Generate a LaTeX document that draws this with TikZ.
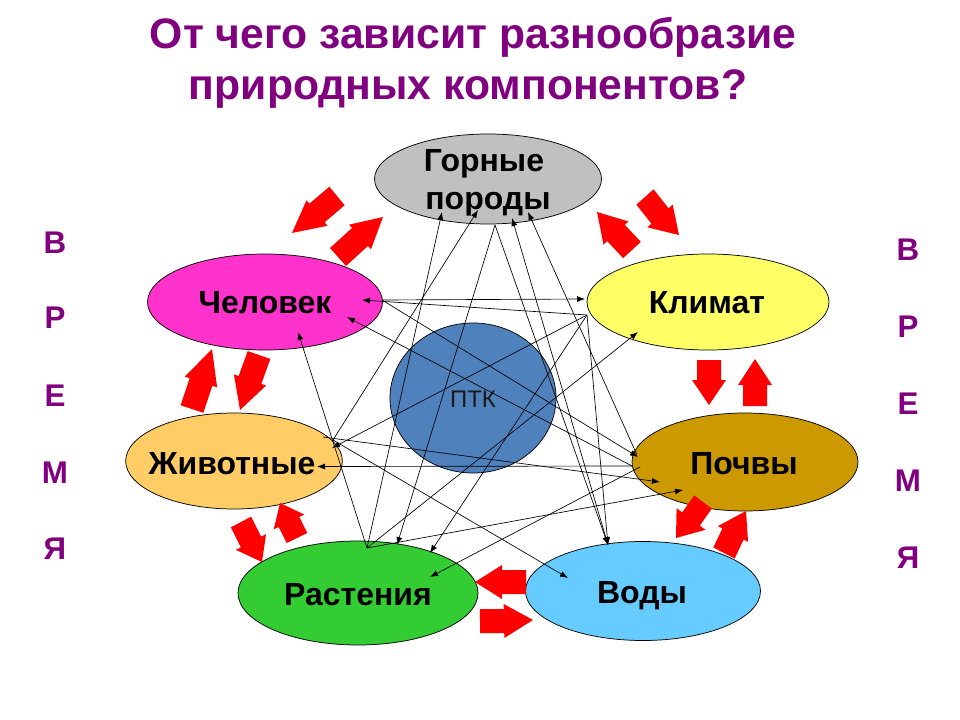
\documentclass[tikz,border=0pt]{standalone}
\usepackage{fontspec}
\setmainfont{Liberation Sans}
\usetikzlibrary{shapes.geometric,arrows.meta}
\definecolor{titlepurple}{HTML}{800080}
\definecolor{rockgray}{HTML}{C0C0C0}
\definecolor{humanpink}{HTML}{FF33CC}
\definecolor{climyellow}{HTML}{FFFF66}
\definecolor{ptkblue}{HTML}{4F81BD}
\definecolor{animorange}{HTML}{FFCC66}
\definecolor{soilgold}{HTML}{CC9900}
\definecolor{plantgreen}{HTML}{33CC33}
\definecolor{waterblue}{HTML}{66CCFF}
\definecolor{arrred}{HTML}{FF0000}
\tikzset{
  ell/.style={ellipse,draw=black,line width=0.55pt,inner sep=0pt,font=\fontsize{24}{26}\selectfont\bfseries,text=black},
  link/.style={draw=black,line width=0.5pt,-{Latex[length=6pt,width=4.5pt]}},
  heading/.style={font=\fontsize{32}{36}\selectfont\bfseries,text=titlepurple,inner sep=0pt},
  timeletter/.style={font=\fontsize{23.5}{26}\selectfont\bfseries,text=titlepurple,inner sep=0pt},
  redpoly/.style={fill=arrred,draw=none}
}
% text placed inside an ellipse: horizontal offset, baseline offset (px from centre)
\newcommand{\ellabel}[3]{\makebox[0pt][c]{\hspace{\dimexpr #1pt*3/2\relax}\raisebox{\dimexpr -#2pt*3/4\relax}[0pt][0pt]{#3}}}
% tail x,y; neck x,y; tip x,y; half shaft; half head
\newcommand{\redarr}[8]{%
  \pgfmathsetmacro{\rdx}{#5-#1}\pgfmathsetmacro{\rdy}{#6-#2}%
  \pgfmathsetmacro{\rlen}{veclen(\rdx,\rdy)}%
  \pgfmathsetmacro{\rnx}{-\rdy/\rlen}\pgfmathsetmacro{\rny}{\rdx/\rlen}%
  \fill[redpoly] ({#1+#7*\rnx},{#2+#7*\rny}) -- ({#3+#7*\rnx},{#4+#7*\rny}) -- ({#3+#8*\rnx},{#4+#8*\rny})
    -- (#5,#6) -- ({#3-#8*\rnx},{#4-#8*\rny}) -- ({#3-#7*\rnx},{#4-#7*\rny}) -- ({#1-#7*\rnx},{#2-#7*\rny}) -- cycle;}
\begin{document}
\begin{tikzpicture}[x=0.75pt,y=-0.75pt]
\useasboundingbox (0,0) rectangle (960,720);
\fill[white] (0,0) rectangle (960,720);
% title
\node[heading] (title1) at (473,37) {От чего зависит разнообразие};
\node[heading] (title2) at (468,89) {природных компонентов?};
% time
\foreach \n/\t/\y in {a/В/243,b/Р/318,c/Е/396,d/М/473,e/Я/549}
  \node[timeletter] (left\n) at (55,\y) {\t};
\foreach \n/\t/\y in {a/В/250,b/Р/327,c/Е/404,d/М/481,e/Я/558}
  \node[timeletter] (right\n) at (908,\y) {\t};
% ellipses
\node[ell,fill=ptkblue,minimum width=124.5pt,minimum height=112.5pt,font=\fontsize{18}{20}\selectfont,text=black!90] (ptk) at (473,398) {\ellabel{0}{9}{ПТК}};
\node[ell,fill=rockgray,minimum width=170.25pt,minimum height=67.5pt] (gor) at (488,179) {\ellabel{-4}{-7}{Горные}\ellabel{0}{31}{породы}};
\node[ell,fill=humanpink,minimum width=176.25pt,minimum height=72pt] (hum) at (265,302) {\ellabel{0}{12}{Человек}};
\node[ell,fill=climyellow,minimum width=181.5pt,minimum height=72pt] (kli) at (708,302) {\ellabel{-1}{12}{Климат}};
\node[ell,fill=animorange,minimum width=162.5pt,minimum height=72pt] (ani) at (234,461) {\ellabel{-2}{13}{Животные}};
\node[ell,fill=soilgold,minimum width=169.5pt,minimum height=73.5pt] (poc) at (745,462) {\ellabel{-1}{12}{Почвы}};
\node[ell,fill=plantgreen,minimum width=180pt,minimum height=78pt] (ras) at (358,593) {\ellabel{0}{12}{Растения}};
\node[ell,fill=waterblue,minimum width=176.25pt,minimum height=74.25pt] (vod) at (643,591) {\ellabel{-1}{12}{Воды}};
% red arrows
\redarr{337}{196}{317}{213}{292}{233}{12}{16.5}
\redarr{338}{257}{360}{237}{383}{217}{12}{16.5}
\redarr{632}{250}{616}{233}{597}{212}{12}{17}
\redarr{645}{197}{660}{216}{679}{235}{11.5}{17}
\redarr{709}{360}{709}{380}{709}{405}{12}{17}
\redarr{755}{406}{755}{385}{755}{359}{12}{17}
\redarr{703}{502}{691}{519}{676}{538}{11}{18}
\redarr{724}{553}{733}{534}{746}{511}{12}{17}
\redarr{526}{582}{502}{582}{475}{582}{12}{17}
\redarr{480}{621}{504}{621}{533}{620}{12}{17}
\redarr{241}{522}{251}{542}{262}{562}{11.5}{17}
\redarr{297}{538}{289}{522}{280}{503}{11.5}{17}
\redarr{192}{409}{201}{382}{212}{349}{12}{17}
\redarr{259}{355}{250}{380}{240}{410}{12}{17}
% connector ends
\coordinate (gorA) at (442,212); \coordinate (gorB) at (478,210);
\coordinate (gorC) at (512,218); \coordinate (gorD) at (528,212);
\coordinate (gorS) at (495,225);
\coordinate (humA) at (362,300); \coordinate (humB) at (347,317);
\coordinate (humC) at (298,332); \coordinate (humS) at (382,300);
\coordinate (kliA) at (585,299); \coordinate (kliB) at (638,332);
\coordinate (kliS) at (587,315);
\coordinate (aniA) at (332,448); \coordinate (aniB) at (317,466.5);
\coordinate (aniS) at (323,437); \coordinate (aniT) at (333,440);
\coordinate (pocA) at (638,457); \coordinate (pocB) at (660,482);
\coordinate (pocC) at (683,490); \coordinate (pocS) at (632,466);
\coordinate (pocT) at (640,467); \coordinate (pocU) at (637,455);
\coordinate (rasA) at (397,545); \coordinate (rasB) at (430,553);
\coordinate (rasC) at (430,577); \coordinate (rasS) at (367,548);
\coordinate (vodA) at (608,545); \coordinate (vodB) at (568,578);
\coordinate (vodS) at (608,545);
% connectors
\foreach \a/\b in {rasS/gorA,aniT/gorB,vodS/gorC,pocU/gorD,gorS/rasA,gorS/vodA,
  humS/kliA,humS/pocA,kliS/humA,pocS/humB,rasS/humC,kliS/aniA,pocS/aniB,aniS/pocB,
  aniT/vodB,rasS/pocC,rasS/kliB,kliS/rasB,pocT/rasC,kliS/vodA}
  \draw[link] (\a) -- (\b);
\end{tikzpicture}
\end{document}
